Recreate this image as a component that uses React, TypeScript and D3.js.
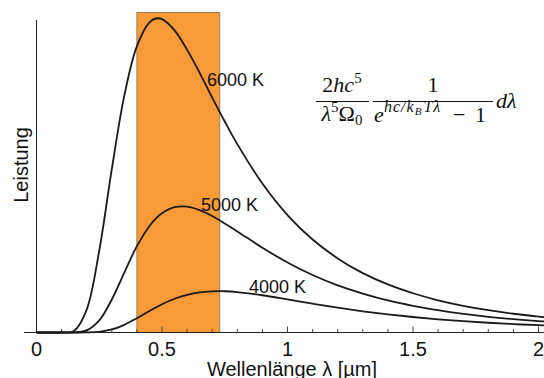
import { useEffect, useRef } from 'react';
import * as d3 from 'd3';

// wavelength samples in µm
const wavelengths = [0, 0.1, 0.15, 0.2, 0.25, 0.3, 0.35, 0.4, 0.45, 0.475, 0.5, 0.55, 0.6, 0.65, 0.7, 0.75, 0.8, 0.9, 1.0, 1.1, 1.2, 1.3, 1.4, 1.5, 1.6, 1.7, 1.8, 1.9, 2.0, 2.05];

// relative power (6000 K peak = 1)
const power6000 = [0, 0, 0.0056, 0.073, 0.261, 0.52, 0.755, 0.912, 0.988, 1.0, 0.998, 0.962, 0.9, 0.827, 0.748, 0.672, 0.6, 0.4745, 0.374, 0.296, 0.236, 0.189, 0.153, 0.125, 0.1026, 0.085, 0.071, 0.0597, 0.0505, 0.0465];
const power5000 = [0, 0, 0.0002, 0.0066, 0.0384, 0.105, 0.191, 0.275, 0.339, 0.363, 0.38, 0.399, 0.401, 0.39, 0.371, 0.347, 0.322, 0.27, 0.223, 0.183, 0.15, 0.124, 0.102, 0.085, 0.071, 0.059, 0.05, 0.0426, 0.0364, 0.0337];
const power4000 = [0, 0, 0, 0.0002, 0.0022, 0.0096, 0.0245, 0.0454, 0.0685, 0.0796, 0.09, 0.1075, 0.12, 0.128, 0.131, 0.1314, 0.1288, 0.1186, 0.1054, 0.0918, 0.079, 0.0676, 0.0577, 0.0493, 0.0421, 0.0361, 0.0311, 0.0268, 0.0232, 0.0216];

const curveLabels = ['6000 K', '5000 K', '4000 K'];
const xTicks = [0, 0.5, 1, 1.5, 2];
const visibleBand = [0.4, 0.73];

const W = 544;
const H = 378;

const App = () => {
  const ref = useRef<SVGSVGElement>(null);

  useEffect(() => {
    if (!ref.current) return;
    const svg = d3.select(ref.current);
    svg.selectAll('*').remove();

    const x = d3.scaleLinear().domain([0, 2]).range([36.5, 538.5]);
    const y = d3.scaleLinear().domain([0, 1]).range([332.5, 18.5]);

    // visible light band
    svg.append('rect')
      .attr('x', x(visibleBand[0]))
      .attr('y', 12.5)
      .attr('width', x(visibleBand[1]) - x(visibleBand[0]))
      .attr('height', y(0) - 12.5)
      .attr('fill', '#f89a38')
      .attr('stroke', '#a07a52')
      .attr('stroke-width', 1);

    // axes
    svg.append('line')
      .attr('x1', x(0)).attr('x2', x(0))
      .attr('y1', 20).attr('y2', y(0))
      .attr('stroke', '#222').attr('stroke-width', 1);
    svg.append('line')
      .attr('x1', 24).attr('x2', W)
      .attr('y1', y(0)).attr('y2', y(0))
      .attr('stroke', '#222').attr('stroke-width', 1.2);

    const minor = d3.range(1, 21).map(i => i / 10);
    svg.append('g').selectAll('line')
      .data(minor)
      .enter()
      .append('line')
      .attr('x1', d => x(d)).attr('x2', d => x(d))
      .attr('y1', y(0))
      .attr('y2', d => (Math.abs(d * 2 - Math.round(d * 2)) < 1e-6 ? y(0) - 6 : y(0) - 3.5))
      .attr('stroke', '#444').attr('stroke-width', 1);

    svg.append('g').selectAll('text')
      .data(xTicks)
      .enter()
      .append('text')
      .attr('x', d => x(d))
      .attr('y', 356)
      .attr('text-anchor', 'middle')
      .style('font-family', 'Liberation Sans, Arial, sans-serif')
      .style('font-size', '20px')
      .attr('fill', '#111')
      .text(d => String(d));

    svg.append('text')
      .attr('x', 292)
      .attr('y', 376)
      .attr('text-anchor', 'middle')
      .style('font-family', 'Liberation Sans, Arial, sans-serif')
      .style('font-size', '20px')
      .attr('fill', '#111')
      .text('Wellenlänge λ [µm]');

    svg.append('text')
      .attr('transform', 'translate(28,165) rotate(-90)')
      .attr('text-anchor', 'middle')
      .style('font-family', 'Liberation Sans, Arial, sans-serif')
      .style('font-size', '20px')
      .attr('fill', '#111')
      .text('Leistung');

    // curves
    const line = d3.line<number>()
      .x((_, i) => x(wavelengths[i]))
      .y(d => y(d))
      .curve(d3.curveCatmullRom.alpha(0.5));

    [power6000, power5000, power4000].forEach(series => {
      svg.append('path')
        .datum(series)
        .attr('fill', 'none')
        .attr('stroke', '#1a1a1a')
        .attr('stroke-width', 1.8)
        .attr('d', line);
    });

    const labelPos = [[207, 86], [201, 211], [249, 293]];
    curveLabels.forEach((t, i) => {
      svg.append('text')
        .attr('x', labelPos[i][0])
        .attr('y', labelPos[i][1])
        .style('font-family', 'Liberation Sans, Arial, sans-serif')
        .style('font-size', '18px')
        .attr('fill', '#111')
        .text(t);
    });

    // formula
    const f = svg.append('g')
      .style('font-family', 'Liberation Serif, DejaVu Serif, serif')
      .attr('fill', '#111');

    const num1 = f.append('text').attr('x', 342).attr('y', 92).attr('text-anchor', 'middle').style('font-size', '22px');
    num1.append('tspan').text('2');
    num1.append('tspan').style('font-style', 'italic').text('hc');
    num1.append('tspan').attr('dy', -9).style('font-size', '15px').text('5');

    f.append('line').attr('x1', 316).attr('x2', 369).attr('y1', 101.5).attr('y2', 101.5).attr('stroke', '#111').attr('stroke-width', 1.1);

    const den1 = f.append('text').attr('x', 342).attr('y', 121).attr('text-anchor', 'middle').style('font-size', '22px');
    den1.append('tspan').style('font-style', 'italic').text('λ');
    den1.append('tspan').attr('dy', -9).style('font-size', '15px').text('5');
    den1.append('tspan').attr('dy', 9).text('Ω');
    den1.append('tspan').attr('dy', 4).style('font-size', '15px').text('0');

    f.append('text').attr('x', 433).attr('y', 92).attr('text-anchor', 'middle').style('font-size', '22px').text('1');

    f.append('line').attr('x1', 373).attr('x2', 493).attr('y1', 101.5).attr('y2', 101.5).attr('stroke', '#111').attr('stroke-width', 1.1);

    f.append('text').attr('x', 374).attr('y', 122).style('font-size', '22px').style('font-style', 'italic').text('e');
    const sup = f.append('text').attr('x', 384).attr('y', 112).style('font-size', '16px').style('font-style', 'italic').style('letter-spacing', '1px');
    sup.append('tspan').text('hc/k');
    sup.append('tspan').attr('dy', 3).style('font-size', '11px').text('B');
    sup.append('tspan').attr('dy', -3).attr('dx', 1).text('Tλ');
    f.append('text').attr('x', 453).attr('y', 122).style('font-size', '22px').text('−');
    f.append('text').attr('x', 475).attr('y', 122).style('font-size', '22px').text('1');

    f.append('text').attr('x', 496).attr('y', 108).style('font-size', '22px').style('font-style', 'italic').text('dλ');
  }, []);

  return (
    <svg
      ref={ref}
      width={W}
      height={H}
      style={{ position: 'absolute', left: 0, top: 0, background: '#fff' }}
    />
  );
};

export default App;
